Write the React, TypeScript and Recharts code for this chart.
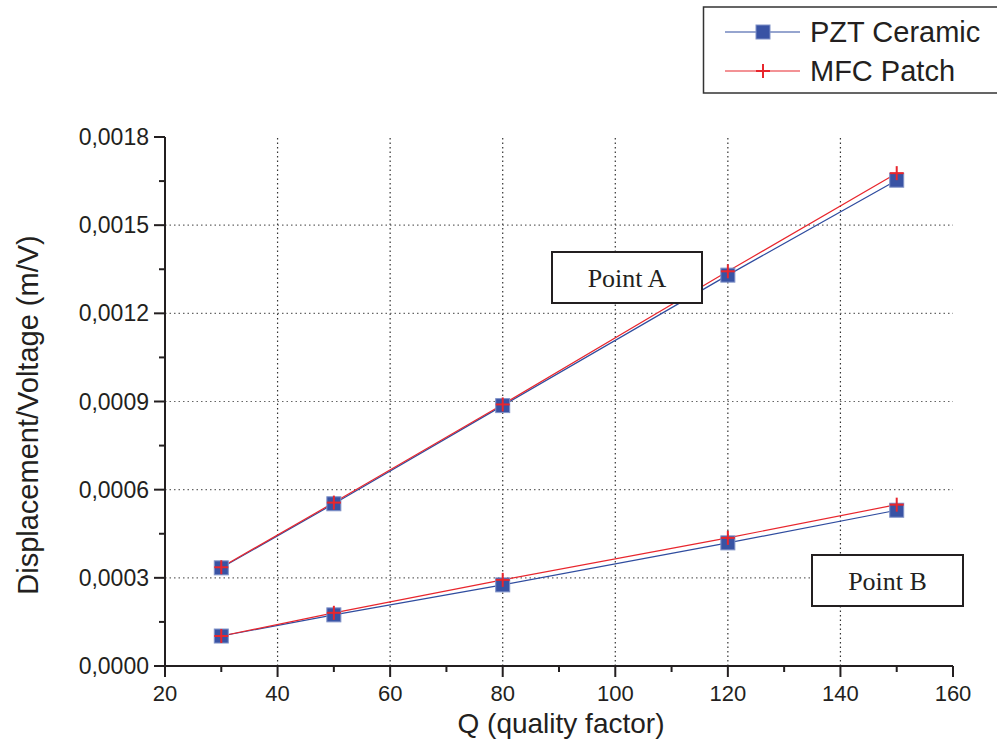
import React from 'react';
import { LineChart, Line, XAxis, YAxis, ReferenceLine } from 'recharts';

const qValues = [30, 50, 80, 120, 150];
const pztPointA = [0.000334, 0.000552, 0.000886, 0.00133, 0.001653];
const mfcPointA = [0.000336, 0.000556, 0.00089, 0.001343, 0.001677];
const pztPointB = [0.000102, 0.000174, 0.000276, 0.000419, 0.00053];
const mfcPointB = [0.000102, 0.000181, 0.000293, 0.000436, 0.000549];

const xTicks = [20, 30, 40, 50, 60, 70, 80, 90, 100, 110, 120, 130, 140, 150, 160];
const xMajor = [20, 40, 60, 80, 100, 120, 140, 160];
const xGrid = [40, 60, 80, 100, 120, 140];
const yTicks = [0, 0.00015, 0.0003, 0.00045, 0.0006, 0.00075, 0.0009, 0.00105, 0.0012, 0.00135, 0.0015, 0.00165, 0.0018];
const yMajor = [0, 0.0003, 0.0006, 0.0009, 0.0012, 0.0015, 0.0018];
const yGrid = [0.0003, 0.0006, 0.0009, 0.0012, 0.0015];

const data = qValues.map((q, i) => ({
  q,
  pztA: pztPointA[i],
  mfcA: mfcPointA[i],
  pztB: pztPointB[i],
  mfcB: mfcPointB[i],
}));

const BLUE = '#2f4c9f';
const SQUARE = '#3953a4';
const RED = '#e8262d';
const AXIS = '#231f20';
const SANS = '"Liberation Sans", Arial, sans-serif';
const SERIF = '"Liberation Serif", "Times New Roman", serif';

const isMajor = (arr: number[], v: number) => arr.some((m) => Math.abs(m - v) < 1e-9);

const XTick = (props: any) => {
  const { x, y, payload } = props;
  const major = isMajor(xMajor, payload.value);
  return (
    <g>
      <line x1={x} y1={y} x2={x} y2={y + (major ? 11 : 6)} stroke={AXIS} strokeWidth={2} />
      {major && (
        <text x={x} y={y + 35} textAnchor="middle" fontFamily={SANS} fontSize={22} fill={AXIS}>
          {payload.value}
        </text>
      )}
    </g>
  );
};

const YTick = (props: any) => {
  const { x, y, payload } = props;
  const major = isMajor(yMajor, payload.value);
  return (
    <g>
      <line x1={x} y1={y} x2={x - (major ? 11 : 6)} y2={y} stroke={AXIS} strokeWidth={2} />
      {major && (
        <text x={x - 16} y={y + 8} textAnchor="end" fontFamily={SANS} fontSize={23} fill={AXIS}>
          {payload.value.toFixed(4).replace('.', ',')}
        </text>
      )}
    </g>
  );
};

const SquareDot = (props: any) => {
  const { cx, cy } = props;
  if (cx == null || cy == null) return null;
  return <rect x={cx - 7} y={cy - 7} width={14} height={14} fill={SQUARE} stroke="#8092c8" strokeWidth={1} />;
};

const PlusDot = (props: any) => {
  const { cx, cy } = props;
  if (cx == null || cy == null) return null;
  return (
    <g>
      <line x1={cx - 7} y1={cy} x2={cx + 7} y2={cy} stroke={RED} strokeWidth={2} />
      <line x1={cx} y1={cy - 7} x2={cx} y2={cy + 7} stroke={RED} strokeWidth={2} />
    </g>
  );
};

export default function App() {
  return (
    <div style={{ position: 'absolute', left: 0, top: 0, width: 997, height: 751, background: '#fff' }}>
      <LineChart
        width={997}
        height={751}
        data={data}
        margin={{ top: 137, right: 44, bottom: 0, left: 0 }}
      >
        <XAxis
          dataKey="q"
          type="number"
          domain={[20, 160]}
          ticks={xTicks}
          interval={0}
          height={85}
          tickSize={0}
          tickMargin={0}
          tick={<XTick />}
          tickLine={false}
          axisLine={{ stroke: AXIS, strokeWidth: 2 }}
          allowDataOverflow
        />
        <YAxis
          type="number"
          domain={[0, 0.0018]}
          ticks={yTicks}
          interval={0}
          width={165}
          tickSize={0}
          tickMargin={0}
          tick={<YTick />}
          tickLine={false}
          axisLine={{ stroke: AXIS, strokeWidth: 2 }}
          allowDataOverflow
        />
        {xGrid.map((v) => (
          <ReferenceLine key={'x' + v} x={v} stroke="#333" strokeDasharray="1.5 3" strokeWidth={1.2} />
        ))}
        {yGrid.map((v) => (
          <ReferenceLine key={'y' + v} y={v} stroke="#666" strokeDasharray="1.5 3" strokeWidth={1.2} />
        ))}
        <Line dataKey="pztA" stroke={BLUE} strokeWidth={1.2} dot={<SquareDot />} isAnimationActive={false} type="linear" />
        <Line dataKey="pztB" stroke={BLUE} strokeWidth={1.2} dot={<SquareDot />} isAnimationActive={false} type="linear" />
        <Line dataKey="mfcA" stroke={RED} strokeWidth={1.2} dot={<PlusDot />} isAnimationActive={false} type="linear" />
        <Line dataKey="mfcB" stroke={RED} strokeWidth={1.2} dot={<PlusDot />} isAnimationActive={false} type="linear" />
      </LineChart>
      <svg
        width={997}
        height={751}
        style={{ position: 'absolute', left: 0, top: 0, pointerEvents: 'none' }}
      >
        <text x={561} y={733} textAnchor="middle" fontFamily={SANS} fontSize={28} fill={AXIS}>
          Q (quality factor)
        </text>
        <text
          x={0}
          y={0}
          transform="translate(38 415) rotate(-90)"
          textAnchor="middle"
          fontFamily={SANS}
          fontSize={29}
          fill={AXIS}
        >
          Displacement/Voltage (m/V)
        </text>
        <rect x={703.5} y={7} width={320} height={86} fill="#fff" stroke="#333" strokeWidth={1.5} />
        <line x1={725} y1={32} x2={800} y2={32} stroke={BLUE} strokeWidth={1.2} />
        <rect x={756} y={25} width={14} height={14} fill={SQUARE} stroke="#8092c8" strokeWidth={1} />
        <text x={810} y={42} fontFamily={SANS} fontSize={29} fill={AXIS}>PZT Ceramic</text>
        <line x1={725} y1={71} x2={800} y2={71} stroke={RED} strokeWidth={1.2} />
        <line x1={756} y1={71} x2={770} y2={71} stroke={RED} strokeWidth={2} />
        <line x1={763} y1={64} x2={763} y2={78} stroke={RED} strokeWidth={2} />
        <text x={810} y={81} fontFamily={SANS} fontSize={29} fill={AXIS}>MFC Patch</text>
        <rect x={552} y={252} width={150} height={51} fill="#fff" stroke={AXIS} strokeWidth={2} />
        <text x={627} y={287} textAnchor="middle" fontFamily={SERIF} fontSize={26} fill={AXIS}>Point A</text>
        <rect x={812} y={555} width={151} height={51} fill="#fff" stroke={AXIS} strokeWidth={2} />
        <text x={887.5} y={590} textAnchor="middle" fontFamily={SERIF} fontSize={26} fill={AXIS}>Point B</text>
      </svg>
    </div>
  );
}
